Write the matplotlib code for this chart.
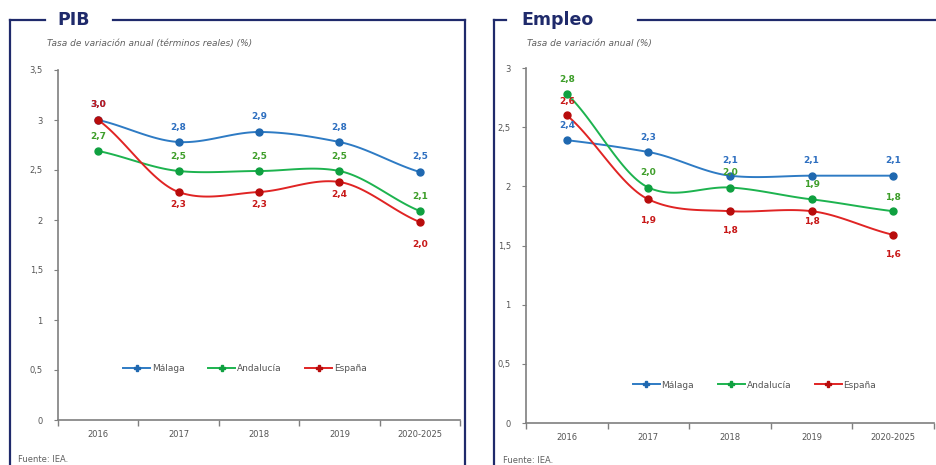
import matplotlib
matplotlib.use("Agg")
import matplotlib.pyplot as plt
from matplotlib.lines import Line2D
from matplotlib.ticker import FuncFormatter, FixedLocator
import numpy as np

# Categories and series
years = ["2016", "2017", "2018", "2019", "2020-2025"]
series = ["Málaga", "Andalucía", "España"]

pib_malaga = [3.0, 2.78, 2.88, 2.78, 2.48]
pib_andalucia = [2.69, 2.49, 2.49, 2.49, 2.09]
pib_espana = [3.0, 2.28, 2.28, 2.38, 1.98]

emp_malaga = [2.39, 2.29, 2.09, 2.09, 2.09]
emp_andalucia = [2.78, 1.99, 1.99, 1.89, 1.79]
emp_espana = [2.6, 1.89, 1.79, 1.79, 1.59]

line_cols = ["#2E7BC4", "#1DB34F", "#E02424"]
mark_cols = ["#1F68B0", "#0FA040", "#B80C0C"]
label_cols = ["#2E6FC0", "#3E9E2A", "#C81818"]
navy = "#1F2A6B"
gray = "#7F7F7F"


def smooth(y, n=30):
    # catmull-rom like excel "smoothed line"
    y = np.asarray(y, float)
    xs, ys = [], []
    for i in range(len(y) - 1):
        p0 = y[max(i - 1, 0)]
        p1, p2 = y[i], y[i + 1]
        p3 = y[min(i + 2, len(y) - 1)]
        m1 = (p2 - p0) / (2 if i > 0 else 1)
        m2 = (p3 - p1) / (2 if i + 2 < len(y) else 1)
        t = np.linspace(0, 1, n)
        h00 = 2 * t**3 - 3 * t**2 + 1
        h10 = t**3 - 2 * t**2 + t
        h01 = -2 * t**3 + 3 * t**2
        h11 = t**3 - t**2
        xs.append(i + t)
        ys.append(h00 * p1 + h10 * m1 * 0.8 + h01 * p2 + h11 * m2 * 0.8)
    return np.concatenate(xs), np.concatenate(ys)


def comma(v, pos):
    return f"{v:g}".replace(".", ",")


fig = plt.figure(figsize=(9.36, 4.65), dpi=100)
W, H = 936, 465


def px(x, y):
    return x / W, 1 - y / H


def frame(x0, x1, gap0, gap1, title, tx):
    kw = dict(color=navy, lw=1.6, transform=fig.transFigure)
    ys = 20
    for xa, xb in [(x0, gap0), (gap1, x1)]:
        (a, b), (c, d) = px(xa, ys), px(xb, ys)
        fig.add_artist(Line2D([a, c], [b, d], **kw))
    for xv in [x0, x1]:
        (a, b), (c, d) = px(xv, ys), px(xv, H + 5)
        fig.add_artist(Line2D([a, c], [b, d], **kw))
    fig.text(*px(tx, 20), title, color=navy, fontsize=12.5, fontweight="bold",
             va="center", ha="left")


frame(10, 465, 45, 113, "PIB", 57)
frame(494, 940, 506, 638, "Empleo", 521)

fig.text(*px(47, 43), "Tasa de variación anual (términos reales) (%)", fontsize=6.5,
         style="italic", color="#606060", va="center")
fig.text(*px(527, 43), "Tasa de variación anual (%)", fontsize=6.5,
         style="italic", color="#606060", va="center")
fig.text(*px(18, 459), "Fuente: IEA.", fontsize=6, color="#606060", va="center")
fig.text(*px(503, 460), "Fuente: IEA.", fontsize=6, color="#606060", va="center")

panels = [
    dict(rect=(58, 70, 460, 420), ymax=3.5, data=[pib_malaga, pib_andalucia, pib_espana],
         offs=[[15, 15, 15, 15, 15], [15, 15, 15, 15, 15], [15, -12, -12, -13, -23]],
         leg=(0.465, 0.146)),
    dict(rect=(526, 68, 934, 423), ymax=3.0, data=[emp_malaga, emp_andalucia, emp_espana],
         offs=[[15, 15, 15, 15, 15], [15, 15, 15, 15, 14], [14, -21, -19, -10, -20]],
         leg=(0.56, 0.107)),
]

for p in panels:
    x0, y0, x1, y1 = p["rect"]
    ax = fig.add_axes([x0 / W, 1 - y1 / H, (x1 - x0) / W, (y1 - y0) / H])
    ax.set_xlim(-0.5, 4.5)
    ax.set_ylim(0, p["ymax"])
    for s in ["top", "right"]:
        ax.spines[s].set_visible(False)
    for s in ["left", "bottom"]:
        ax.spines[s].set_color(gray)
        ax.spines[s].set_linewidth(1.2)
    ax.yaxis.set_major_locator(FixedLocator(np.arange(0, p["ymax"] + 0.01, 0.5)))
    ax.yaxis.set_major_formatter(FuncFormatter(comma))
    ax.set_xticks(range(len(years)))
    ax.set_xticklabels(years)
    ax.set_xticks(np.arange(-0.5, len(years)), minor=True)
    ax.tick_params(axis="x", which="major", length=0, labelsize=6, labelcolor="#555555", pad=7)
    ax.tick_params(axis="x", which="minor", length=4, color=gray, width=1)
    ax.tick_params(axis="y", length=3, color=gray, labelsize=6, labelcolor="#555555", pad=8)
    ax.patch.set_alpha(0)

    x = np.arange(len(years))
    for k, vals in enumerate(p["data"]):
        sx, sy = smooth(vals)
        ax.plot(sx, sy, color=line_cols[k], lw=1.4, zorder=2 + k)
        ax.plot(x, vals, "o", color=mark_cols[k], ms=5, zorder=2 + k)
        ax.plot([], [], color=line_cols[k], lw=1.4, marker="P", ms=5,
                mfc=mark_cols[k], mec=mark_cols[k], label=series[k])
        for i, v in enumerate(vals):
            dy = p["offs"][k][i]
            ax.annotate(f"{v:.1f}".replace(".", ","), (i, v), xytext=(0, dy),
                        textcoords="offset pixels", ha="center", va="center",
                        fontsize=6.5, fontweight="bold", color=label_cols[k],
                        zorder=10 + k)

    ax.legend(loc="center", bbox_to_anchor=p["leg"], ncol=3, frameon=False,
              fontsize=6.5, labelcolor="#555555", handlelength=3.0,
              columnspacing=2.6, handletextpad=0.2)

fig.savefig("out.png", dpi=100)
